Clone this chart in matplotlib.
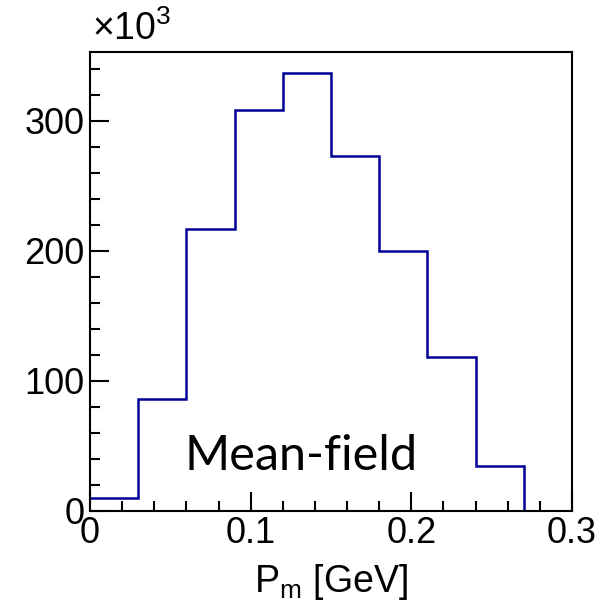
import numpy as np
import matplotlib.pyplot as plt
from matplotlib.ticker import MultipleLocator

# Histogram contents (in units of 10^3)
edges = np.round(np.arange(0, 0.301, 0.03), 2)
counts = [10, 86, 217, 308, 337, 273, 200, 118.5, 34.5, 0]

fig = plt.figure(figsize=(6.05, 6.09), dpi=100)
ax = fig.add_axes([0.1488, 0.1617, 0.7967, 0.7529])

ax.stairs(counts, edges, color="#000099", linewidth=1.8, baseline=None)

ax.set_xlim(0, 0.3)
ax.set_ylim(0, 353)

ax.xaxis.set_major_locator(MultipleLocator(0.1))
ax.xaxis.set_minor_locator(MultipleLocator(0.02))
ax.yaxis.set_major_locator(MultipleLocator(100))
ax.yaxis.set_minor_locator(MultipleLocator(20))

ax.tick_params(which="both", direction="in", width=1.5, top=False, right=False)
ax.tick_params(which="major", length=14, labelsize=26, pad=4)
ax.tick_params(which="minor", length=7)
ax.set_xticks([0, 0.1, 0.2, 0.3])
ax.set_xticklabels(["0", "0.1", "0.2", "0.3"], family="Liberation Sans")
ax.set_yticks([0, 100, 200, 300])
ax.set_yticklabels(["0", "100", "200", "300"], family="Liberation Sans")

for s in ax.spines.values():
    s.set_linewidth(1.5)

ax.set_xlabel(r"P$_\mathregular{m}$ [GeV]", fontsize=27, family="Liberation Sans", labelpad=8)

fig.text(0.152, 0.922, r"$\mathregular{\times10^{3}}$", fontsize=27, family="Liberation Sans",
         ha="left", va="bottom")

ax.text(0.197, 0.12, "Mean-field", transform=ax.transAxes, fontsize=35, family="Lato",
        ha="left", va="center")

fig.savefig("out.png", dpi=100)
